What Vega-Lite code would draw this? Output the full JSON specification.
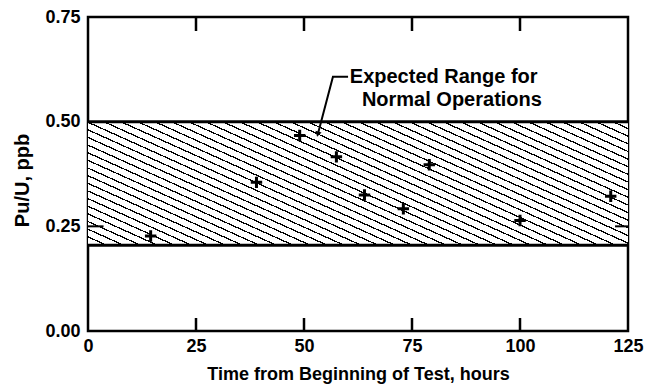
{
  "$schema": "https://vega.github.io/schema/vega-lite/v6.json",
  "width": 540,
  "height": 314,
  "autosize": "none",
  "padding": {"left": 88, "top": 17, "right": 19, "bottom": 56},
  "background": "white",
  "config": {
    "font": "Liberation Sans",
    "view": {"stroke": "#000", "strokeWidth": 2.5},
    "axis": {
      "domain": false,
      "grid": false,
      "labelFlush": false,
      "labelOverlap": false,
      "labelColor": "#000",
      "labelFont": "Liberation Sans",
      "labelFontWeight": "bold",
      "labelFontSize": 18,
      "titleFont": "Liberation Sans",
      "titleFontWeight": "bold",
      "titleColor": "#000"
    }
  },
  "resolve": {"axis": {"x": "independent", "y": "independent"}},
  "layer": [
    {
      "data": {"values": [{"x0": 0, "x1": 125, "lo": 0.205, "hi": 0.5}]},
      "mark": {
        "type": "rect",
        "fill": {
          "gradient": "linear", "x1": 0, "y1": 1, "x2": 1.199, "y2": 0.391,
          "stops": [
            {"offset": 0, "color": "#000"}, {"offset": 0.0038, "color": "#000"}, {"offset": 0.0038, "color": "#fff"}, {"offset": 0.0208, "color": "#fff"},
            {"offset": 0.0208, "color": "#000"}, {"offset": 0.0246, "color": "#000"}, {"offset": 0.0246, "color": "#fff"}, {"offset": 0.0417, "color": "#fff"},
            {"offset": 0.0417, "color": "#000"}, {"offset": 0.0455, "color": "#000"}, {"offset": 0.0455, "color": "#fff"}, {"offset": 0.0625, "color": "#fff"},
            {"offset": 0.0625, "color": "#000"}, {"offset": 0.0663, "color": "#000"}, {"offset": 0.0663, "color": "#fff"}, {"offset": 0.0833, "color": "#fff"},
            {"offset": 0.0833, "color": "#000"}, {"offset": 0.0871, "color": "#000"}, {"offset": 0.0871, "color": "#fff"}, {"offset": 0.1042, "color": "#fff"},
            {"offset": 0.1042, "color": "#000"}, {"offset": 0.108, "color": "#000"}, {"offset": 0.108, "color": "#fff"}, {"offset": 0.125, "color": "#fff"},
            {"offset": 0.125, "color": "#000"}, {"offset": 0.1288, "color": "#000"}, {"offset": 0.1288, "color": "#fff"}, {"offset": 0.1458, "color": "#fff"},
            {"offset": 0.1458, "color": "#000"}, {"offset": 0.1496, "color": "#000"}, {"offset": 0.1496, "color": "#fff"}, {"offset": 0.1667, "color": "#fff"},
            {"offset": 0.1667, "color": "#000"}, {"offset": 0.1705, "color": "#000"}, {"offset": 0.1705, "color": "#fff"}, {"offset": 0.1875, "color": "#fff"},
            {"offset": 0.1875, "color": "#000"}, {"offset": 0.1913, "color": "#000"}, {"offset": 0.1913, "color": "#fff"}, {"offset": 0.2083, "color": "#fff"},
            {"offset": 0.2083, "color": "#000"}, {"offset": 0.2121, "color": "#000"}, {"offset": 0.2121, "color": "#fff"}, {"offset": 0.2292, "color": "#fff"},
            {"offset": 0.2292, "color": "#000"}, {"offset": 0.233, "color": "#000"}, {"offset": 0.233, "color": "#fff"}, {"offset": 0.25, "color": "#fff"},
            {"offset": 0.25, "color": "#000"}, {"offset": 0.2538, "color": "#000"}, {"offset": 0.2538, "color": "#fff"}, {"offset": 0.2708, "color": "#fff"},
            {"offset": 0.2708, "color": "#000"}, {"offset": 0.2746, "color": "#000"}, {"offset": 0.2746, "color": "#fff"}, {"offset": 0.2917, "color": "#fff"},
            {"offset": 0.2917, "color": "#000"}, {"offset": 0.2955, "color": "#000"}, {"offset": 0.2955, "color": "#fff"}, {"offset": 0.3125, "color": "#fff"},
            {"offset": 0.3125, "color": "#000"}, {"offset": 0.3163, "color": "#000"}, {"offset": 0.3163, "color": "#fff"}, {"offset": 0.3333, "color": "#fff"},
            {"offset": 0.3333, "color": "#000"}, {"offset": 0.3371, "color": "#000"}, {"offset": 0.3371, "color": "#fff"}, {"offset": 0.3542, "color": "#fff"},
            {"offset": 0.3542, "color": "#000"}, {"offset": 0.358, "color": "#000"}, {"offset": 0.358, "color": "#fff"}, {"offset": 0.375, "color": "#fff"},
            {"offset": 0.375, "color": "#000"}, {"offset": 0.3788, "color": "#000"}, {"offset": 0.3788, "color": "#fff"}, {"offset": 0.3958, "color": "#fff"},
            {"offset": 0.3958, "color": "#000"}, {"offset": 0.3996, "color": "#000"}, {"offset": 0.3996, "color": "#fff"}, {"offset": 0.4167, "color": "#fff"},
            {"offset": 0.4167, "color": "#000"}, {"offset": 0.4205, "color": "#000"}, {"offset": 0.4205, "color": "#fff"}, {"offset": 0.4375, "color": "#fff"},
            {"offset": 0.4375, "color": "#000"}, {"offset": 0.4413, "color": "#000"}, {"offset": 0.4413, "color": "#fff"}, {"offset": 0.4583, "color": "#fff"},
            {"offset": 0.4583, "color": "#000"}, {"offset": 0.4621, "color": "#000"}, {"offset": 0.4621, "color": "#fff"}, {"offset": 0.4792, "color": "#fff"},
            {"offset": 0.4792, "color": "#000"}, {"offset": 0.483, "color": "#000"}, {"offset": 0.483, "color": "#fff"}, {"offset": 0.5, "color": "#fff"},
            {"offset": 0.5, "color": "#000"}, {"offset": 0.5038, "color": "#000"}, {"offset": 0.5038, "color": "#fff"}, {"offset": 0.5208, "color": "#fff"},
            {"offset": 0.5208, "color": "#000"}, {"offset": 0.5246, "color": "#000"}, {"offset": 0.5246, "color": "#fff"}, {"offset": 0.5417, "color": "#fff"},
            {"offset": 0.5417, "color": "#000"}, {"offset": 0.5455, "color": "#000"}, {"offset": 0.5455, "color": "#fff"}, {"offset": 0.5625, "color": "#fff"},
            {"offset": 0.5625, "color": "#000"}, {"offset": 0.5663, "color": "#000"}, {"offset": 0.5663, "color": "#fff"}, {"offset": 0.5833, "color": "#fff"},
            {"offset": 0.5833, "color": "#000"}, {"offset": 0.5871, "color": "#000"}, {"offset": 0.5871, "color": "#fff"}, {"offset": 0.6042, "color": "#fff"},
            {"offset": 0.6042, "color": "#000"}, {"offset": 0.608, "color": "#000"}, {"offset": 0.608, "color": "#fff"}, {"offset": 0.625, "color": "#fff"},
            {"offset": 0.625, "color": "#000"}, {"offset": 0.6288, "color": "#000"}, {"offset": 0.6288, "color": "#fff"}, {"offset": 0.6458, "color": "#fff"},
            {"offset": 0.6458, "color": "#000"}, {"offset": 0.6496, "color": "#000"}, {"offset": 0.6496, "color": "#fff"}, {"offset": 0.6667, "color": "#fff"},
            {"offset": 0.6667, "color": "#000"}, {"offset": 0.6705, "color": "#000"}, {"offset": 0.6705, "color": "#fff"}, {"offset": 0.6875, "color": "#fff"},
            {"offset": 0.6875, "color": "#000"}, {"offset": 0.6913, "color": "#000"}, {"offset": 0.6913, "color": "#fff"}, {"offset": 0.7083, "color": "#fff"},
            {"offset": 0.7083, "color": "#000"}, {"offset": 0.7121, "color": "#000"}, {"offset": 0.7121, "color": "#fff"}, {"offset": 0.7292, "color": "#fff"},
            {"offset": 0.7292, "color": "#000"}, {"offset": 0.733, "color": "#000"}, {"offset": 0.733, "color": "#fff"}, {"offset": 0.75, "color": "#fff"},
            {"offset": 0.75, "color": "#000"}, {"offset": 0.7538, "color": "#000"}, {"offset": 0.7538, "color": "#fff"}, {"offset": 0.7708, "color": "#fff"},
            {"offset": 0.7708, "color": "#000"}, {"offset": 0.7746, "color": "#000"}, {"offset": 0.7746, "color": "#fff"}, {"offset": 0.7917, "color": "#fff"},
            {"offset": 0.7917, "color": "#000"}, {"offset": 0.7955, "color": "#000"}, {"offset": 0.7955, "color": "#fff"}, {"offset": 0.8125, "color": "#fff"},
            {"offset": 0.8125, "color": "#000"}, {"offset": 0.8163, "color": "#000"}, {"offset": 0.8163, "color": "#fff"}, {"offset": 0.8333, "color": "#fff"},
            {"offset": 0.8333, "color": "#000"}, {"offset": 0.8371, "color": "#000"}, {"offset": 0.8371, "color": "#fff"}, {"offset": 0.8542, "color": "#fff"},
            {"offset": 0.8542, "color": "#000"}, {"offset": 0.858, "color": "#000"}, {"offset": 0.858, "color": "#fff"}, {"offset": 0.875, "color": "#fff"},
            {"offset": 0.875, "color": "#000"}, {"offset": 0.8788, "color": "#000"}, {"offset": 0.8788, "color": "#fff"}, {"offset": 0.8958, "color": "#fff"},
            {"offset": 0.8958, "color": "#000"}, {"offset": 0.8996, "color": "#000"}, {"offset": 0.8996, "color": "#fff"}, {"offset": 0.9167, "color": "#fff"},
            {"offset": 0.9167, "color": "#000"}, {"offset": 0.9205, "color": "#000"}, {"offset": 0.9205, "color": "#fff"}, {"offset": 0.9375, "color": "#fff"},
            {"offset": 0.9375, "color": "#000"}, {"offset": 0.9413, "color": "#000"}, {"offset": 0.9413, "color": "#fff"}, {"offset": 0.9583, "color": "#fff"},
            {"offset": 0.9583, "color": "#000"}, {"offset": 0.9621, "color": "#000"}, {"offset": 0.9621, "color": "#fff"}, {"offset": 0.9792, "color": "#fff"},
            {"offset": 0.9792, "color": "#000"}, {"offset": 0.983, "color": "#000"}, {"offset": 0.983, "color": "#fff"}, {"offset": 1, "color": "#fff"}
          ]
        }
      },
      "encoding": {
        "x": {"field": "x0", "type": "quantitative", "scale": {"domain": [0, 125], "nice": false}, "axis": null},
        "x2": {"field": "x1"},
        "y": {"field": "lo", "type": "quantitative", "scale": {"domain": [0, 0.75], "nice": false}, "axis": null},
        "y2": {"field": "hi"}
      }
    },
    {
      "data": {"values": [{"v": 0.5}, {"v": 0.205}]},
      "mark": {"type": "rule", "color": "#000", "strokeWidth": 3},
      "encoding": {
        "y": {"field": "v", "type": "quantitative", "axis": null}
      }
    },
    {
      "data": {"values": [{"tick": 25}, {"tick": 50}, {"tick": 75}, {"tick": 100}]},
      "mark": {"type": "point", "shape": "stroke", "angle": 90, "filled": false, "color": "#000", "strokeWidth": 2.5, "size": 169, "opacity": 1, "yOffset": -6.5},
      "encoding": {
        "x": {"field": "tick", "type": "quantitative", "axis": null},
        "y": {"datum": 0, "type": "quantitative", "axis": null}
      }
    },
    {
      "data": {"values": [{"tick": 25}, {"tick": 50}, {"tick": 75}, {"tick": 100}]},
      "mark": {"type": "point", "shape": "stroke", "angle": 90, "filled": false, "color": "#000", "strokeWidth": 2.5, "size": 196, "opacity": 1, "yOffset": 7},
      "encoding": {
        "x": {"field": "tick", "type": "quantitative", "axis": null},
        "y": {"datum": 0.75, "type": "quantitative", "axis": null}
      }
    },
    {
      "data": {"values": [{"tv": 0.25}]},
      "mark": {"type": "rule", "color": "#000", "strokeWidth": 2},
      "encoding": {
        "y": {"field": "tv", "type": "quantitative", "axis": null},
        "x": {"datum": 0, "type": "quantitative", "axis": null},
        "x2": {"datum": 3.6}
      }
    },
    {
      "data": {"values": [{"tv": 0.25}]},
      "mark": {"type": "rule", "color": "#000", "strokeWidth": 2},
      "encoding": {
        "y": {"field": "tv", "type": "quantitative", "axis": null},
        "x": {"datum": 125, "type": "quantitative", "axis": null},
        "x2": {"datum": 122}
      }
    },
    {
      "data": {"values": [
        {"t": 14.5, "r": 0.227}, {"t": 39, "r": 0.355}, {"t": 49, "r": 0.467},
        {"t": 57.5, "r": 0.416}, {"t": 64, "r": 0.325}, {"t": 73, "r": 0.292},
        {"t": 79, "r": 0.397}, {"t": 100, "r": 0.264}, {"t": 121, "r": 0.322}
      ]},
      "mark": {"type": "point", "shape": "M-1,0H1M0,-1V1", "filled": false, "color": "#000", "strokeWidth": 3, "size": 130, "opacity": 1},
      "encoding": {
        "x": {"field": "t", "type": "quantitative",
              "axis": {"orient": "bottom", "title": "Time from Beginning of Test, hours", "titleFontSize": 18,
                       "values": [0, 25, 50, 75, 100, 125], "format": "d", "labelPadding": 6, "titlePadding": 10,
                       "ticks": false}},
        "y": {"field": "r", "type": "quantitative",
              "axis": {"orient": "left", "title": "Pu/U, ppb", "titleFontSize": 20,
                       "values": [0, 0.25, 0.5, 0.75], "format": ".2f", "labelPadding": 8, "ticks": false,
                       "titleX": -60, "titleY": 163, "titleAngle": -90, "titleAlign": "center", "titleBaseline": "alphabetic"}}
      }
    },
    {
      "data": {"values": [
        {"lx": 60.2, "ly": 0.607, "o": 1}, {"lx": 56.7, "ly": 0.607, "o": 2}, {"lx": 53.2, "ly": 0.47, "o": 3}
      ]},
      "mark": {"type": "line", "color": "#000", "strokeWidth": 2},
      "encoding": {
        "x": {"field": "lx", "type": "quantitative", "axis": null},
        "y": {"field": "ly", "type": "quantitative", "axis": null},
        "order": {"field": "o"}
      }
    },
    {
      "data": {"values": [{"ax": 53.2, "ay": 0.47}]},
      "mark": {"type": "point", "shape": "triangle-down", "filled": true, "color": "#000", "size": 40, "angle": 15, "opacity": 1},
      "encoding": {
        "x": {"field": "ax", "type": "quantitative", "axis": null},
        "y": {"field": "ay", "type": "quantitative", "axis": null}
      }
    },
    {
      "data": {"values": [
        {"tx": 60.6, "ty": 0.607, "label": "Expected Range for"},
        {"tx": 63.4, "ty": 0.552, "label": "Normal Operations"}
      ]},
      "mark": {"type": "text", "align": "left", "baseline": "middle", "font": "Liberation Sans", "fontWeight": "bold", "fontSize": 20, "color": "#000"},
      "encoding": {
        "x": {"field": "tx", "type": "quantitative", "axis": null},
        "y": {"field": "ty", "type": "quantitative", "axis": null},
        "text": {"field": "label"}
      }
    }
  ]
}
